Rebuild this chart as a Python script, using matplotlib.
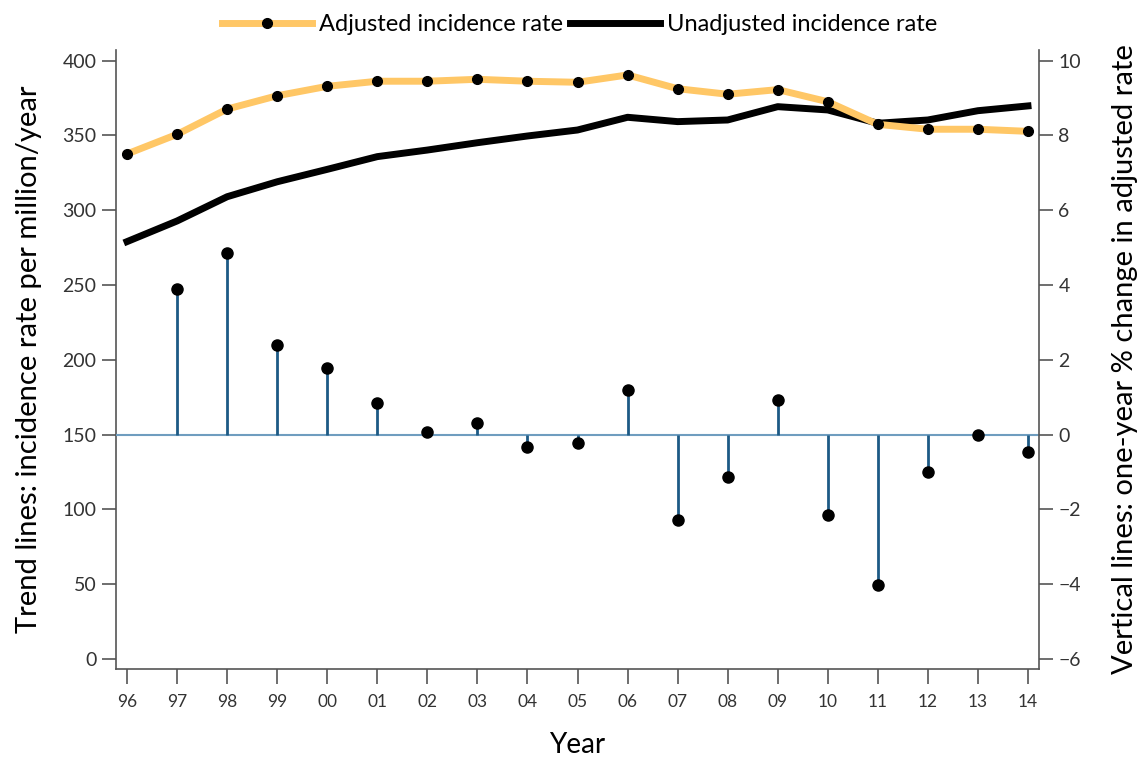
import matplotlib.pyplot as plt
import numpy as np

plt.rcParams['font.family'] = ['Lato', 'DejaVu Sans']

years = ["96", "97", "98", "99", "00", "01", "02", "03", "04", "05",
         "06", "07", "08", "09", "10", "11", "12", "13", "14"]
adjusted = [337.6, 350.7, 367.6, 376.5, 382.8, 386.2, 386.2, 387.5, 386.2, 385.5,
            390.4, 381.2, 377.5, 380.6, 372.5, 357.4, 354.1, 354.1, 352.7]
unadjusted = [279.0, 292.8, 309.0, 319.0, 327.3, 335.8, 340.2, 345.1, 349.6, 353.6,
              362.1, 359.2, 360.3, 369.2, 367.0, 358.1, 360.3, 366.5, 369.7]
# one-year % change in the adjusted rate (no value for the first year)
pct_change = [3.88, 4.85, 2.40, 1.78, 0.84, 0.07, 0.30, -0.32, -0.23,
              1.20, -2.27, -1.13, 0.93, -2.14, -4.03, -1.00, 0.00, -0.47]

orange = "#FFC766"
stem_c = "#1d5a85"
base_c = "#6f9dbf"
spine_c = "#555555"

x = np.arange(len(years))
x_chg = x[1:]

fig = plt.figure(figsize=(11.41, 7.57), dpi=100)
ax = fig.add_axes([0.1017, 0.1162, 0.8089, 0.8178])
ax2 = ax.twinx()

ax.plot(x, adjusted, color=orange, lw=5, marker="o", ms=7,
        mfc="black", mec="black", label="Adjusted incidence rate", zorder=3)
ax.plot(x, unadjusted, color="black", lw=5, label="Unadjusted incidence rate", zorder=2)

ax2.axhline(0, color=base_c, lw=1.5, zorder=1)
ax2.vlines(x_chg, 0, pct_change, color=stem_c, lw=2, zorder=2)
ax2.plot(x_chg, pct_change, "o", color="black", ms=8, zorder=3)

ax.set_xlim(-0.22, 18.22)
ax.set_ylim(-6.7, 407.1)
ax2.set_ylim(-6.268, 10.284)
ax.set_yticks([0, 50, 100, 150, 200, 250, 300, 350, 400])
ax2.set_yticks([-6, -4, -2, 0, 2, 4, 6, 8, 10])
ax.set_xticks(x)
ax.set_xticklabels(years)

for a in (ax, ax2):
    a.spines["top"].set_visible(False)
    for s in ("left", "right", "bottom"):
        a.spines[s].set_color(spine_c)
        a.spines[s].set_linewidth(1.2)
    a.tick_params(axis="y", length=10, width=1.2, color=spine_c,
                  labelsize=14, labelcolor="#333333", pad=4)
ax.tick_params(axis="x", length=11, width=1.2, color=spine_c,
               labelsize=12.5, labelcolor="#333333", pad=7)
ax.spines["right"].set_visible(False)
ax2.spines["left"].set_visible(False)
ax2.spines["bottom"].set_visible(False)

ax.set_xlabel("Year", fontsize=20, labelpad=16)
ax.set_ylabel("Trend lines: incidence rate per million/year", fontsize=21, labelpad=15)
ax2.set_ylabel("Vertical lines: one-year % change in adjusted rate", fontsize=21, labelpad=22)

fig.legend(loc="center", bbox_to_anchor=(0.508, 0.967), ncol=2, frameon=False,
           fontsize=17, handlelength=3.8, handletextpad=0.3, columnspacing=0.3)

fig.savefig("out.png", dpi=100, facecolor="white")
